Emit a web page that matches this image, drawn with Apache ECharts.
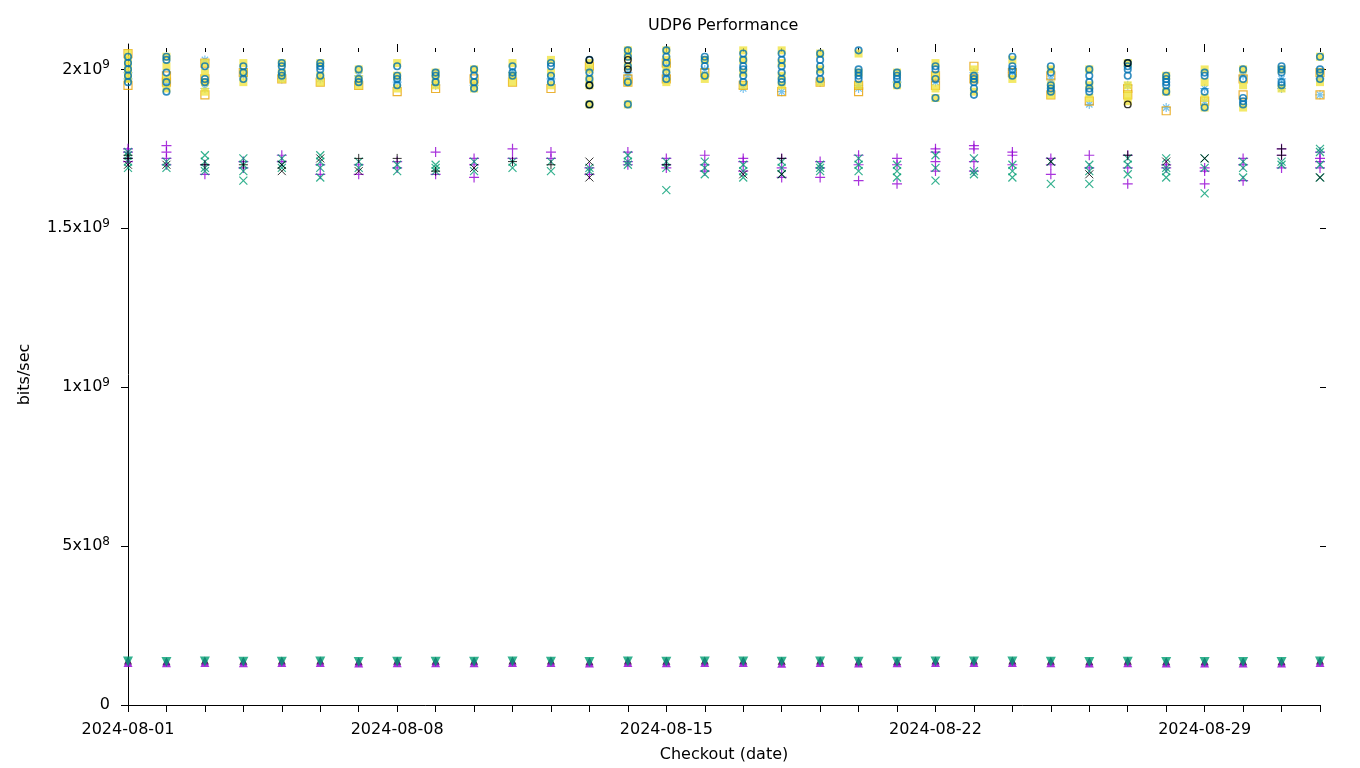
<!DOCTYPE html>
<html>
<head>
<meta charset="utf-8">
<title>UDP6 Performance</title>
<script src="https://cdn.jsdelivr.net/npm/echarts@6/dist/echarts.min.js"></script>
<style>
  html, body { margin: 0; padding: 0; background: #fff; }
  #chart-box { width: 1360px; height: 768px; }
</style>
</head>
<body>
<div id="chart-box"></div>
<script>
// checkout dates (one column of points per day)
const dates = [
  '2024-08-01', '2024-08-02', '2024-08-03', '2024-08-04', '2024-08-05', '2024-08-06', '2024-08-07', '2024-08-08',
  '2024-08-09', '2024-08-10', '2024-08-11', '2024-08-12', '2024-08-13', '2024-08-14', '2024-08-15', '2024-08-16',
  '2024-08-17', '2024-08-18', '2024-08-19', '2024-08-20', '2024-08-21', '2024-08-22', '2024-08-23', '2024-08-24',
  '2024-08-25', '2024-08-26', '2024-08-27', '2024-08-28', '2024-08-29', '2024-08-30', '2024-08-31', '2024-09-01'
];
const labelDates = ['2024-08-01', '2024-08-08', '2024-08-15', '2024-08-22', '2024-08-29'];
const yTicks = [0, 5e8, 1e9, 1.5e9, 2e9];

// values in Gbit/s, one list per day
const lightBlueStar = [
  [1.99, 1.97], [1.96], [2.03, 1.94], [1.98], [1.97], [1.97], [1.98], [1.96],
  [1.95], [1.95], [1.99], [1.97], [2.00], [1.99, 1.98], [2.01, 1.98], [2.00],
  [1.94], [1.93], [1.96], [1.95, 1.94], [1.96], [1.96], [1.99], [1.99],
  [1.97], [1.89], [1.95], [1.88], [1.94, 1.90], [1.98], [1.97, 1.94], [1.97, 1.92]
];
const orangeSquare = [
  [2.05, 1.95], [1.98, 1.96], [2.02, 1.97, 1.92], [1.99], [1.97], [1.96], [1.95], [1.93],
  [1.94], [1.97], [1.96], [1.94], [2.01], [1.97, 1.96], [2.02, 1.97], [1.99],
  [1.95], [1.93], [1.96], [1.95, 1.93], [], [1.98, 1.95], [2.01, 1.97], [1.99],
  [1.98, 1.92], [1.90], [1.94, 1.92], [1.87], [1.90], [1.97, 1.92], [], [1.99, 1.92]
];
const yellowSquare = [
  [2.05, 2.03, 2.01, 1.99, 1.97], [2.04, 2.01, 1.97, 1.94], [2.02, 1.99, 1.96, 1.93], [2.02, 1.99, 1.96],
  [2.02, 1.99, 1.97], [2.02, 1.98, 1.96], [2.00, 1.97, 1.95], [2.02, 1.98, 1.94],
  [1.99, 1.97, 1.95], [2.00, 1.96, 1.94], [2.02, 1.98, 1.96], [2.03, 1.99, 1.95],
  [2.02, 2.00, 1.97, 1.95, 1.89], [2.06, 2.04, 2.01, 1.96, 1.89], [2.06, 2.03, 2.00, 1.96], [2.03, 1.98, 1.97],
  [2.06, 2.03, 1.99, 1.95], [2.06, 2.02, 1.98, 1.95], [2.05, 2.00, 1.96], [2.05, 1.99, 1.95],
  [1.99, 1.95], [2.02, 1.98, 1.94, 1.91], [2.00, 1.97, 1.93], [2.03, 1.97],
  [2.00, 1.95, 1.92], [2.00, 1.95, 1.91], [2.02, 1.95, 1.92, 1.90], [1.98, 1.93],
  [2.00, 1.96, 1.91, 1.88], [2.00, 1.95, 1.88], [2.00, 1.94], [2.04, 1.99, 1.96]
];
const darkBlueCircle = [
  [2.04, 2.02, 2.00, 1.98, 1.96], [2.04, 2.03, 1.99, 1.96, 1.93], [2.01, 1.97, 1.96], [2.01, 1.99, 1.97],
  [2.02, 2.01, 1.99, 1.98], [2.02, 2.01, 2.00, 1.98], [2.00, 1.97, 1.96], [2.01, 1.98, 1.97, 1.95],
  [1.99, 1.98, 1.96], [2.00, 1.98, 1.96, 1.94], [2.01, 1.99, 1.98], [2.02, 2.01, 1.98, 1.96],
  [2.03, 1.99, 1.97, 1.95, 1.89], [2.06, 2.04, 2.01, 1.96, 1.89], [2.06, 2.04, 2.02, 1.99, 1.97], [2.04, 2.03, 2.01, 1.98],
  [2.05, 2.03, 2.01, 2.00, 1.98, 1.96], [2.05, 2.03, 2.01, 1.99, 1.97, 1.96], [2.05, 2.03, 2.01, 1.99, 1.97], [2.06, 2.00, 1.99, 1.98, 1.97],
  [1.99, 1.98, 1.97, 1.95], [2.01, 2.00, 1.97, 1.91], [1.98, 1.97, 1.96, 1.94, 1.92], [2.04, 2.01, 2.00, 1.98],
  [2.01, 1.99, 1.95, 1.94, 1.93], [2.00, 1.98, 1.96, 1.94, 1.93], [2.02, 2.01, 2.00, 1.98], [1.98, 1.97, 1.96, 1.95, 1.93],
  [1.99, 1.98, 1.93, 1.88], [2.00, 1.97, 1.91, 1.90, 1.89], [2.01, 2.00, 1.99, 1.96, 1.95], [2.04, 2.00, 1.99, 1.97]
];
const blackCircle = [
  [], [], [], [], [], [], [], [],
  [], [], [], [], [2.03, 1.95, 1.89], [2.03, 2.00], [], [],
  [], [], [], [], [], [], [], [],
  [], [], [2.02, 1.89], [], [], [], [], []
];
const purplePlus = [
  [1.75, 1.74, 1.72, 1.71], [1.76, 1.74, 1.72, 1.70], [1.70, 1.67], [1.71, 1.69],
  [1.73, 1.71], [1.70, 1.67], [1.70, 1.67], [1.71, 1.69],
  [1.74, 1.67], [1.72, 1.70, 1.66], [1.75, 1.72], [1.74, 1.72],
  [1.69, 1.67], [1.74, 1.71, 1.70], [1.72, 1.70, 1.69], [1.73, 1.70, 1.68],
  [1.72, 1.71, 1.68], [1.72, 1.69, 1.66], [1.71, 1.69, 1.66], [1.73, 1.70, 1.65],
  [1.72, 1.70, 1.64], [1.75, 1.74, 1.71, 1.68], [1.76, 1.75, 1.71, 1.68], [1.74, 1.73, 1.70],
  [1.72, 1.70, 1.67], [1.73, 1.69], [1.73, 1.69, 1.64], [1.70, 1.69],
  [1.69, 1.68, 1.64], [1.72, 1.70, 1.65], [1.75, 1.73, 1.69], [1.74, 1.72, 1.71, 1.69]
];
const greenCross = [
  [1.74, 1.73, 1.71, 1.69], [1.71, 1.69], [1.73, 1.71, 1.69, 1.68], [1.72, 1.70, 1.68, 1.65],
  [1.72, 1.70, 1.69], [1.73, 1.71, 1.69, 1.66], [1.71, 1.69], [1.70, 1.68],
  [1.70, 1.69, 1.68], [1.71, 1.68], [1.71, 1.69], [1.71, 1.68],
  [1.69, 1.68], [1.73, 1.71, 1.70], [1.71, 1.69, 1.62], [1.71, 1.69, 1.67],
  [1.70, 1.68, 1.66], [1.71, 1.69, 1.67], [1.70, 1.69, 1.68], [1.72, 1.70, 1.68],
  [1.70, 1.68, 1.66], [1.73, 1.69, 1.65], [1.72, 1.68, 1.67], [1.70, 1.68, 1.66],
  [1.71, 1.64], [1.70, 1.68, 1.64], [1.72, 1.70, 1.67], [1.72, 1.69, 1.68, 1.66],
  [1.72, 1.69, 1.61], [1.71, 1.69, 1.66], [1.71, 1.70], [1.75, 1.74, 1.70, 1.66]
];
const blackPlus = [
  [1.73, 1.72], [], [1.70], [1.70], [], [], [1.72], [1.72],
  [1.68], [], [1.71], [1.70], [], [], [1.70], [],
  [], [1.72], [], [], [], [], [], [],
  [], [], [1.73], [], [], [], [1.75, 1.73], []
];
const blackCross = [
  [1.70], [1.70], [], [], [1.68, 1.70], [1.72], [1.68], [],
  [], [1.69], [], [], [1.71, 1.66], [], [], [],
  [1.67], [1.67], [], [], [], [], [], [],
  [1.71], [1.67], [], [1.71], [1.72], [], [], [1.66]
];
const purpleUp = [
  [0.134], [0.133], [0.134], [0.133], [0.134], [0.134], [0.132], [0.133],
  [0.133], [0.133], [0.134], [0.134], [0.132], [0.134], [0.133], [0.134],
  [0.134], [0.131], [0.134], [0.132], [0.133], [0.134], [0.134], [0.134],
  [0.133], [0.132], [0.133], [0.132], [0.132], [0.132], [0.132], [0.134]
];
const greenDown = [
  [0.137], [0.135], [0.137], [0.136], [0.136], [0.137], [0.135], [0.136],
  [0.136], [0.136], [0.137], [0.136], [0.135], [0.137], [0.136], [0.137],
  [0.137], [0.136], [0.137], [0.136], [0.136], [0.137], [0.137], [0.137],
  [0.136], [0.135], [0.136], [0.135], [0.135], [0.135], [0.135], [0.137]
];
const blackUp = [
  [0.140], [0.138], [0.140], [0.139], [0.140], [0.140], [0.138], [0.139],
  [0.139], [0.139], [0.140], [0.140], [0.138], [0.140], [0.139], [0.140],
  [0.140], [0.139], [0.140], [0.138], [0.138], [0.140], [0.140], [0.140],
  [0.139], [0.138], [0.139], [0.138], [0.138], [0.138], [0.138], [0.140]
];

const DAY = 86400000;
const toDay = (s) => Date.parse(s) / DAY;   // days since epoch
const dayNums = dates.map(toDay);

function toPoints(perDay) {
  let pts = [];
  perDay.forEach((vals, i) => {
    vals.forEach(v => pts.push([dayNums[i], v * 1e9]));
  });
  return pts;
}

const PLUS = 'path://M0,5L10,5M5,0L5,10';
const CROSS = 'path://M0,0L10,10M10,0L0,10';
const STAR = 'path://M0,5L10,5M5,0L5,10M1.5,1.5L8.5,8.5M8.5,1.5L1.5,8.5';
const FONT = 'DejaVu Sans';

function strokeSeries(data, symbol, color, size, width) {
  return {
    type: 'scatter', data: toPoints(data), symbol: symbol, symbolSize: size,
    itemStyle: {color: 'none', borderColor: color, borderWidth: width || 1},
    silent: true, animation: false
  };
}
function fillSeries(data, symbol, color, size, rotate) {
  return {
    type: 'scatter', data: toPoints(data), symbol: symbol, symbolSize: size,
    symbolRotate: rotate || 0,
    itemStyle: {color: color},
    silent: true, animation: false
  };
}

function yFmt(v) {
  if (v === 0) return '0';
  const exp = Math.floor(Math.log10(v) + 1e-9);
  const mant = +(v / Math.pow(10, exp)).toFixed(2);
  return mant + 'x10{s|' + exp + '}';
}
function dateFmt(v) {
  const d = new Date(Math.round(v) * DAY);
  return d.toISOString().slice(0, 10);
}

const xMin = dayNums[0];
const xMax = dayNums[dayNums.length - 1];
const gridBox = {left: 128, right: 40, top: 44, bottom: 63};

// top tick marks: long ones each week, short ones each day (own grids so both sit at the top)
function topTickAxis(gridIndex, values, len) {
  return {
    gridIndex: gridIndex, type: 'value', min: xMin, max: xMax, position: 'top', offset: -8,
    axisLine: {show: false, onZero: false},
    axisTick: {inside: false, length: len, lineStyle: {color: '#000'}, customValues: values},
    axisLabel: {show: false}, splitLine: {show: false}
  };
}
function hiddenY(gridIndex) {
  return {gridIndex: gridIndex, type: 'value', min: 0, max: 2.08e9, show: false};
}

let chart = echarts.init(document.getElementById('chart-box'));
let option = {
  backgroundColor: '#fff',
  animation: false,
  title: {
    text: 'UDP6 Performance', left: 643, top: 13,
    textStyle: {fontFamily: FONT, fontSize: 16, fontWeight: 'normal', color: '#000'}
  },
  grid: [gridBox, gridBox, gridBox],
  xAxis: [
    {
      type: 'value', min: xMin, max: xMax, position: 'bottom',
      name: 'Checkout (date)', nameLocation: 'middle', nameGap: 42,
      nameTextStyle: {fontFamily: FONT, fontSize: 16, color: '#000'},
      axisLine: {onZero: false, lineStyle: {color: '#000', width: 1}},
      axisTick: {inside: false, length: 7, lineStyle: {color: '#000'}, customValues: dayNums},
      axisLabel: {
        customValues: labelDates.map(toDay), formatter: dateFmt, margin: 17,
        fontFamily: FONT, fontSize: 16, color: '#000'
      },
      splitLine: {show: false}
    },
    topTickAxis(1, labelDates.map(toDay), 8),
    topTickAxis(2, dayNums, 4)
  ],
  yAxis: [
    {
      type: 'value', min: 0, max: 2.08e9, position: 'left',
      name: 'bits/sec', nameLocation: 'middle', nameGap: 95, nameRotate: 90,
      nameTextStyle: {fontFamily: FONT, fontSize: 16, color: '#000'},
      axisLine: {show: true, onZero: false, lineStyle: {color: '#000', width: 1}},
      axisTick: {show: true, inside: false, length: 7, lineStyle: {color: '#000'}, customValues: yTicks},
      axisLabel: {
        customValues: yTicks, formatter: yFmt, margin: 18,
        fontFamily: FONT, fontSize: 16, color: '#000',
        rich: {s: {fontFamily: FONT, fontSize: 12, color: '#000', padding: [0, 0, 9, 0]}}
      },
      splitLine: {show: false}
    },
    {
      type: 'value', min: 0, max: 2.08e9, position: 'right',
      axisLine: {show: false, onZero: false},
      axisTick: {show: true, inside: false, length: 6, lineStyle: {color: '#000'}, customValues: yTicks.slice(1)},
      axisLabel: {show: false}, splitLine: {show: false}
    },
    hiddenY(1),
    hiddenY(2)
  ],
  series: [
    strokeSeries(purplePlus, PLUS, '#9400d3', 10, 1.2),
    strokeSeries(greenCross, CROSS, '#009e73', 8, 1.2),
    strokeSeries(blackPlus, PLUS, '#000000', 9),
    strokeSeries(blackCross, CROSS, '#000000', 8),
    strokeSeries(lightBlueStar, STAR, '#56b4e9', 9, 1.2),
    strokeSeries(orangeSquare, 'rect', '#e69f00', 8, 1.2),
    fillSeries(yellowSquare, 'rect', '#f0e442', 8),
    strokeSeries(darkBlueCircle, 'circle', '#0072b2', 6.5, 1.6),
    strokeSeries(blackCircle, 'circle', '#000000', 6.5, 1.4),
    fillSeries(blackUp, 'triangle', '#000000', 8),
    fillSeries(purpleUp, 'triangle', '#9400d3', 9),
    fillSeries(greenDown, 'triangle', '#009e73', 10, 180)
  ]
};
chart.setOption(option);
</script>
</body>
</html>
